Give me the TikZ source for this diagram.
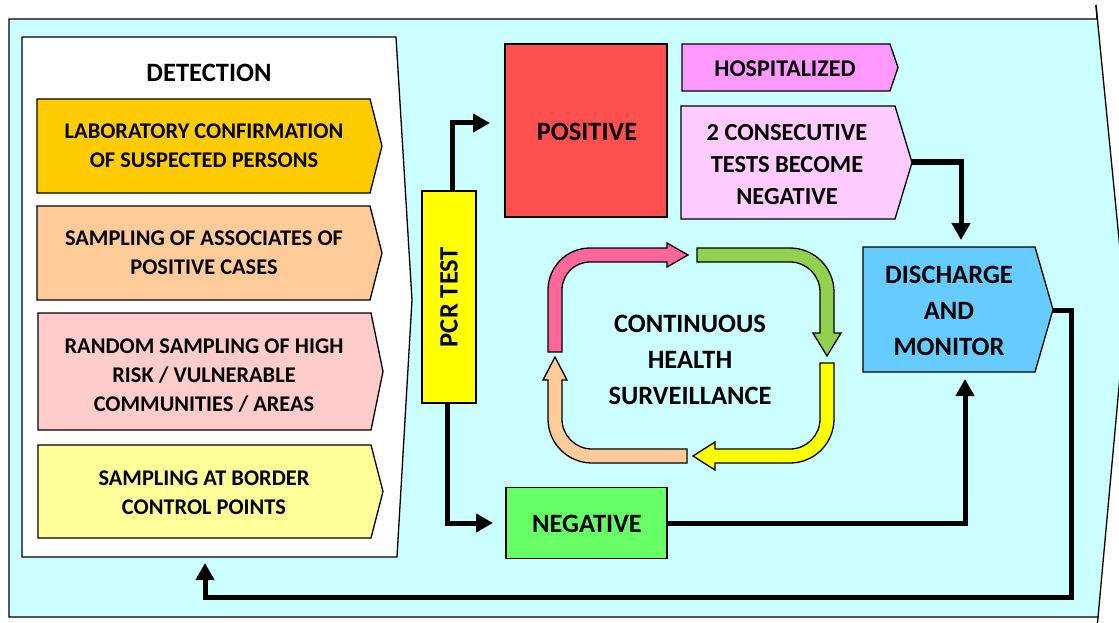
\documentclass[tikz,border=0pt]{standalone}
\usepackage{fontspec}
\setmainfont{Carlito}
\usetikzlibrary{arrows.meta}
\definecolor{bgc}{HTML}{CCFFFF}
\definecolor{c1}{HTML}{FFCC00}
\definecolor{c2}{HTML}{FFCC99}
\definecolor{c3}{HTML}{FFCCCC}
\definecolor{c4}{HTML}{FFFF99}
\definecolor{pcrc}{HTML}{FFFF00}
\definecolor{posc}{HTML}{FF5050}
\definecolor{negc}{HTML}{66FF66}
\definecolor{hospc}{HTML}{FF99FF}
\definecolor{consc}{HTML}{FFCCFF}
\definecolor{disc}{HTML}{66CCFF}
\definecolor{pinkc}{HTML}{FF6699}
\definecolor{greenc}{HTML}{92D050}
\definecolor{yelc}{HTML}{FFFF00}
\definecolor{peachc}{HTML}{FFCC99}
\newcommand{\chev}[6]{\filldraw[shp,fill=#6] (#1,#2) -- (#3,#2) -- (#5,{(#2+#4)/2}) -- (#3,#4) -- (#1,#4) -- cycle;}
\begin{document}
\begin{tikzpicture}[x=1pt,y=-1pt,
  shp/.style={draw=black,line width=1.3pt,line join=miter},
  big/.style={font=\bfseries\fontsize{26.5}{36}\selectfont,align=center},
  item/.style={font=\bfseries\fontsize{22.4}{29}\selectfont,align=center},
  mid/.style={font=\bfseries\fontsize{24.5}{32}\selectfont,align=center},
  conn/.style={line width=5pt,line join=miter,-{Triangle[length=17pt,width=18pt]}}]
\useasboundingbox (0,0) rectangle (1119,623);
\clip (0,0) rectangle (1119,623);
% background
\fill[bgc] (9,19) -- (1097,19) -- (1126,310) -- (1098,617) -- (9,617) -- cycle;
\draw[line width=1.3pt] (1096,5) -- (1097,19) -- (9,19) -- (9,617) -- (1098,617);
\draw[line width=1.3pt] (1096,5) -- (1126,310) -- (1097.5,623);
% detection panel
\filldraw[shp,fill=white] (22,37) -- (396,37) -- (412,300) -- (397,557) -- (22,557) -- cycle;
\node[big] (det) at (209,73) {DETECTION};
\chev{37}{99}{370}{193}{382}{c1}
\node[item] (i1) at (204,146) {LABORATORY CONFIRMATION\\OF SUSPECTED PERSONS};
\chev{37}{206}{370}{300}{382}{c2}
\node[item] (i2) at (204,253) {SAMPLING OF ASSOCIATES OF\\POSITIVE CASES};
\chev{38}{313}{371}{430}{383}{c3}
\node[item] (i3) at (204,376) {RANDOM SAMPLING OF HIGH\\RISK / VULNERABLE\\COMMUNITIES / AREAS};
\chev{38}{445}{371}{538}{383}{c4}
\node[item] (i4) at (204,493) {SAMPLING AT BORDER\\CONTROL POINTS};
% PCR
\node[shp,fill=pcrc,minimum width=54pt,minimum height=212pt,inner sep=0pt] (pcr) at (449,297) {};
\node[big,rotate=90] (pcrt) at (449,297) {PCR TEST};
% positive / negative
\node[shp,fill=posc,minimum width=162pt,minimum height=173pt,inner sep=0pt] (posi) at (586,130.5) {};
\node[big] (post) at (587,132) {POSITIVE};
\node[shp,fill=negc,minimum width=161pt,minimum height=71pt,inner sep=0pt] (nega) at (586.5,523) {};
\node[big] (negt) at (587,524) {NEGATIVE};
% hospitalized, consecutive, discharge
\chev{682}{44}{890}{91}{898}{hospc}
\node[mid,font=\bfseries\fontsize{24}{30}\selectfont] (hosp) at (785,69) {HOSPITALIZED};
\chev{681}{106}{895}{219}{912}{consc}
\node[mid] (cons) at (787,165) {2 CONSECUTIVE\\TESTS BECOME\\NEGATIVE};
\chev{863}{247}{1035}{372}{1053}{disc}
\node[big] (dis) at (949,311) {DISCHARGE\\AND\\MONITOR};
% cycle arrows
\filldraw[shp,fill=pinkc] (548,352) -- (548,290) arc[start angle=180,end angle=270,radius=42] -- (667,248) -- (667,243) -- (688,255) -- (667,267) -- (667,262) -- (590,262) arc[start angle=270,end angle=180,radius=28] -- (562,352) -- cycle;
\filldraw[shp,fill=greenc] (697,248) -- (790,248) arc[start angle=270,end angle=360,radius=44] -- (834,333) -- (841,333) -- (827,356) -- (813,333) -- (820,333) -- (820,292) arc[start angle=0,end angle=-90,radius=30] -- (697,262) -- cycle;
\filldraw[shp,fill=yelc] (820,363) -- (834,363) -- (834,419) arc[start angle=0,end angle=90,radius=44] -- (715,463) -- (715,470) -- (693,456) -- (715,442) -- (715,449) -- (790,449) arc[start angle=90,end angle=0,radius=30] -- cycle;
\filldraw[shp,fill=peachc] (687,449) -- (687,463) -- (592,463) arc[start angle=90,end angle=180,radius=44] -- (548,380) -- (543,380) -- (555,357) -- (567,380) -- (562,380) -- (562,419) arc[start angle=180,end angle=90,radius=30] -- cycle;
\node[big] (cont) at (690,360) {CONTINUOUS\\HEALTH\\SURVEILLANCE};
% connector end points
\coordinate (ptop) at (490,123);
\coordinate (pbot) at (493,523);
\coordinate (cpt) at (912,162);
\coordinate (dtop) at (961,240);
\coordinate (dbot) at (965,379);
\coordinate (dpt) at (1053,310);
\coordinate (fbc) at (1071,597);
\coordinate (fb) at (205,563);
\draw[conn] ([xshift=3pt]pcr.north) |- (ptop);
\draw[conn] ([xshift=-2pt]pcr.south) |- (pbot);
\draw[conn] (cpt) -| (dtop);
\draw[conn] (nega.east) -| (dbot);
\draw[conn] (dpt) -| (fbc) -| (fb);
\end{tikzpicture}
\end{document}
